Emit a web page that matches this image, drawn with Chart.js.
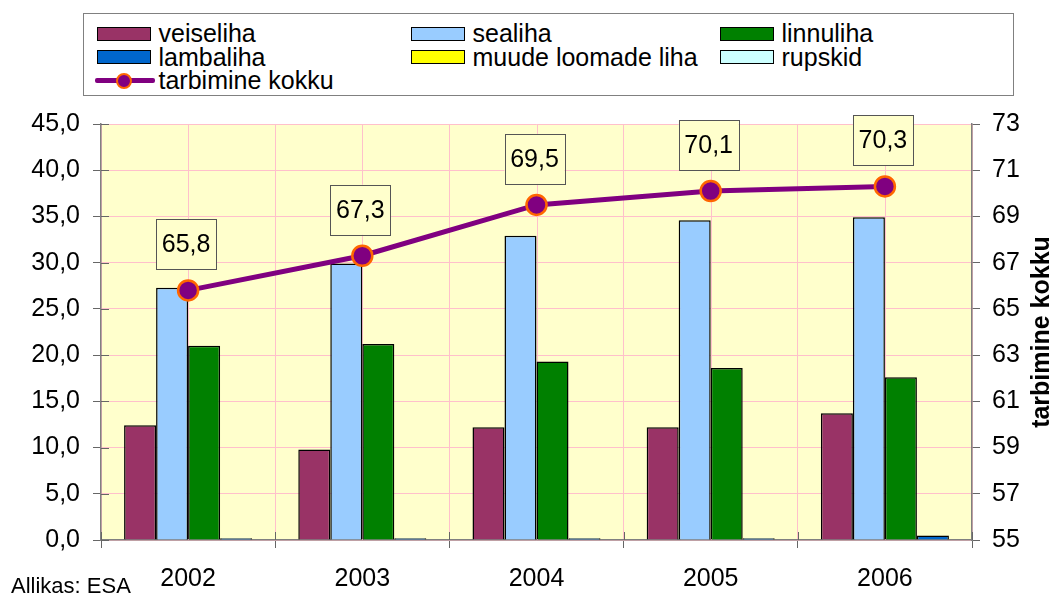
<!DOCTYPE html>
<html>
<head>
<meta charset="utf-8">
<script src="https://cdn.jsdelivr.net/npm/chart.js@4"></script>
<style>
    html, body { margin: 0; padding: 0; background: #fff; }
    #wrap { position: relative; width: 1053px; height: 599px; font-family: 'Liberation Sans', Arial, sans-serif; }
    #chart { position: absolute; left: 0; top: 0; }
    #legend {
        position: absolute; left: 83px; top: 13px; width: 931px; height: 83px;
        border: 1.5px solid #808080; box-sizing: border-box; background: #fff;
        padding: 8px 0 0 12.5px;
        display: grid; grid-template-columns: 314px 309px auto; grid-auto-rows: 23.5px;
        font-size: 25px; line-height: 23.5px; color: #000;
    }
    .item { display: flex; align-items: center; white-space: nowrap; }
    .sw { width: 54px; height: 14px; border: 1.5px solid #000; box-sizing: border-box; margin-right: 8px; }
    .ln { position: relative; width: 60px; height: 16px; margin: 0 4px 0 -2px; }
    .ln .bar { position: absolute; left: 0; right: 0; top: 5.5px; height: 5px; background: #800080; border-radius: 2px; }
    .ln .dot { position: absolute; left: 21px; top: 0; width: 16px; height: 16px; border-radius: 50%; background: #800080; border: 2px solid #FF6600; box-sizing: border-box; }
</style>
</head>
<body>
<div id="wrap">
    <canvas id="chart" width="1053" height="599"></canvas>
    <div id="legend"></div>
</div>
<script>
const years = ['2002', '2003', '2004', '2005', '2006'];
const veiseliha = [12.4, 9.8, 12.2, 12.2, 13.7];
const sealiha = [27.3, 29.9, 32.9, 34.6, 34.9];
const linnuliha = [21.0, 21.2, 19.3, 18.6, 17.6];
const lambaliha = [0.2, 0.2, 0.2, 0.2, 0.5];
const muudeLiha = [null, null, null, null, null];
const rupskid = [null, null, null, null, null];
const kokku = [65.8, 67.3, 69.5, 70.1, 70.3];
const leftTicks = ['0,0', '5,0', '10,0', '15,0', '20,0', '25,0', '30,0', '35,0', '40,0', '45,0'];
const rightTicks = ['55', '57', '59', '61', '63', '65', '67', '69', '71', '73'];

Chart.defaults.font.family = "'Liberation Sans', Arial, sans-serif";
Chart.defaults.font.size = 25;
Chart.defaults.color = '#000';

function bar(label, data, color, grouped) {
    return {
        type: 'bar', label: label, data: data, yAxisID: 'y',
        backgroundColor: color, borderColor: '#000', borderWidth: 1.5,
        grouped: grouped, order: 1
    };
}

// yellow plot background, extra grid lines through the year centres,
// and the inner half of the crossing tick marks
const plotBg = {
    id: 'plotBg',
    beforeDraw(chart) {
        const a = chart.chartArea, ctx = chart.ctx;
        ctx.save();
        ctx.fillStyle = '#FFFFCC';
        ctx.fillRect(a.left, a.top, a.right - a.left, a.bottom - a.top);
        ctx.restore();
    },
    beforeDatasetsDraw(chart) {
        const a = chart.chartArea, ctx = chart.ctx;
        const x = chart.scales.x, y = chart.scales.y;
        ctx.save();
        ctx.lineWidth = 1;
        ctx.strokeStyle = '#FFC0CB';
        x.ticks.forEach((t, i) => {
            const px = Math.round(x.getPixelForTick(i)) + 0.5;
            ctx.beginPath();
            ctx.moveTo(px, a.top);
            ctx.lineTo(px, a.bottom);
            ctx.stroke();
        });
        ctx.strokeStyle = '#666';
        y.ticks.forEach((t, i) => {
            const py = Math.round(y.getPixelForTick(i)) + 0.5;
            ctx.beginPath();
            ctx.moveTo(a.left, py);
            ctx.lineTo(a.left + 8, py);
            ctx.stroke();
        });
        for (let i = 0; i <= x.ticks.length; i++) {
            const px = Math.round(x.left + i * (x.width / x.ticks.length)) + 0.5;
            ctx.beginPath();
            ctx.moveTo(px, a.bottom);
            ctx.lineTo(px, a.bottom - 8);
            ctx.stroke();
        }
        ctx.restore();
    }
};

// boxed value labels over the total line
const totalLabels = {
    id: 'totalLabels',
    afterDatasetsDraw(chart) {
        const ctx = chart.ctx;
        const idx = chart.data.datasets.findIndex(d => d.type === 'line');
        const meta = chart.getDatasetMeta(idx);
        ctx.save();
        ctx.font = "25px 'Liberation Sans', Arial, sans-serif";
        ctx.textAlign = 'center';
        ctx.textBaseline = 'middle';
        meta.data.forEach((pt, i) => {
            const w = 60, h = 50;
            const x = pt.x - w / 2 - 2, y = pt.y - 21 - h;
            ctx.fillStyle = '#FFFFCC';
            ctx.fillRect(x, y, w, h);
            ctx.strokeStyle = '#555';
            ctx.lineWidth = 1;
            ctx.strokeRect(Math.round(x) + 0.5, Math.round(y) + 0.5, w, h);
            ctx.fillStyle = '#000';
            ctx.fillText(kokku[i].toFixed(1).replace('.', ','), x + w / 2, y + h / 2 + 1);
        });
        ctx.restore();
    }
};

// right axis title (reads bottom to top) and source note
const extras = {
    id: 'extras',
    afterDraw(chart) {
        const ctx = chart.ctx, a = chart.chartArea;
        ctx.save();
        ctx.translate(1042, (a.top + a.bottom) / 2);
        ctx.rotate(-Math.PI / 2);
        ctx.font = "bold 25px 'Liberation Sans', Arial, sans-serif";
        ctx.textAlign = 'center';
        ctx.textBaseline = 'middle';
        ctx.fillStyle = '#000';
        ctx.fillText('tarbimine kokku', 0, 0);
        ctx.restore();
        ctx.save();
        ctx.font = "22px 'Liberation Sans', Arial, sans-serif";
        ctx.textBaseline = 'middle';
        ctx.fillStyle = '#000';
        ctx.fillText('Allikas: ESA', 11, 587);
        ctx.restore();
    }
};

const chart = new Chart(document.getElementById('chart'), {
    data: {
        labels: years,
        datasets: [
            bar('veiseliha', veiseliha, '#993366', true),
            bar('sealiha', sealiha, '#99CCFF', true),
            bar('linnuliha', linnuliha, '#008000', true),
            bar('lambaliha', lambaliha, '#0066CC', true),
            bar('muude loomade liha', muudeLiha, '#FFFF00', false),
            bar('rupskid', rupskid, '#CCFFFF', false),
            {
                type: 'line', label: 'tarbimine kokku', data: kokku, yAxisID: 'y2',
                borderColor: '#800080', borderWidth: 5, tension: 0,
                pointRadius: 10, pointBackgroundColor: '#800080',
                pointBorderColor: '#FF6600', pointBorderWidth: 2.5, order: 0
            }
        ]
    },
    options: {
        responsive: false,
        animation: false,
        devicePixelRatio: 1,
        layout: { padding: { top: 124, left: 0, right: 0, bottom: 0 } },
        datasets: { bar: { barPercentage: 1, categoryPercentage: 0.735 } },
        plugins: { legend: { display: false }, tooltip: { enabled: false } },
        scales: {
            x: {
                offset: true,
                grid: { offset: true, color: '#FFC0CB', tickColor: '#666', tickLength: 8 },
                border: { color: '#808080', width: 1.5 },
                ticks: { padding: 16 },
                afterFit(s) { s.height = 59; }
            },
            y: {
                position: 'left', min: 0, max: 45,
                ticks: { stepSize: 5, padding: 13, callback: (v, i) => leftTicks[i] },
                grid: { color: '#FFC0CB', tickColor: '#666', tickLength: 8 },
                border: { color: '#808080', width: 1.5 },
                afterFit(s) { s.width = 101; }
            },
            y2: {
                position: 'right', min: 55, max: 73,
                ticks: { stepSize: 2, padding: 12, callback: (v, i) => rightTicks[i] },
                grid: { drawOnChartArea: false, tickColor: '#666', tickLength: 8 },
                border: { color: '#808080', width: 1.5 },
                afterFit(s) { s.width = 81; }
            }
        }
    },
    plugins: [plotBg, totalLabels, extras]
});

// legend built from the chart's datasets
const legend = document.getElementById('legend');
chart.data.datasets.forEach(ds => {
    const item = document.createElement('div');
    item.className = 'item';
    if (ds.type === 'line') {
        item.innerHTML = '<div class="ln"><div class="bar"></div><div class="dot"></div></div>';
    } else {
        const sw = document.createElement('div');
        sw.className = 'sw';
        sw.style.background = ds.backgroundColor;
        item.appendChild(sw);
    }
    item.appendChild(document.createTextNode(ds.label));
    legend.appendChild(item);
});
</script>
</body>
</html>
